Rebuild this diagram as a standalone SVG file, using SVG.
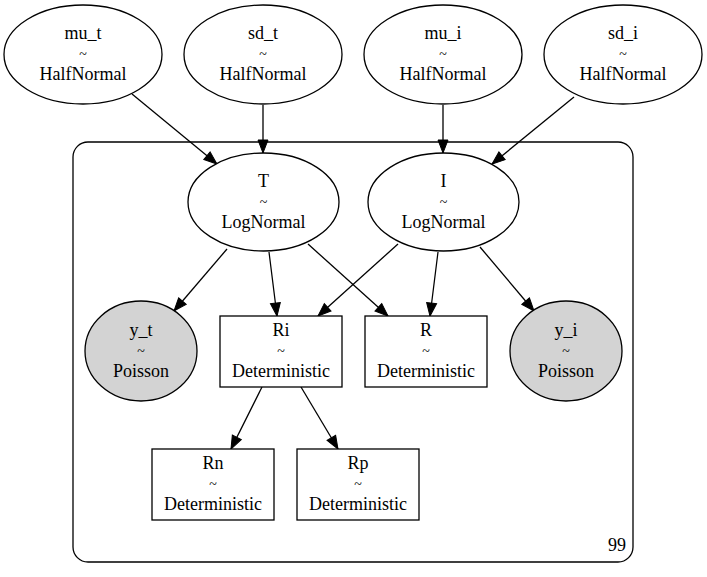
<svg xmlns="http://www.w3.org/2000/svg" width="707" height="577" viewBox="0 0 707 577">
<defs>
<marker id="arr" markerUnits="userSpaceOnUse" markerWidth="14" markerHeight="11" refX="13" refY="5" orient="auto" overflow="visible">
<path d="M0,0 L13,5 L0,10 z" fill="#000" stroke="#000" stroke-width="1"/>
</marker>
</defs>
<style>
.n{fill:#fff;stroke:#000;stroke-width:1.3}
.o{fill:#d3d3d3;stroke:#000;stroke-width:1.3}
.c{fill:none;stroke:#000;stroke-width:1.3}
.e{stroke:#000;stroke-width:1.3;fill:none;marker-end:url(#arr)}
text{font-family:'Liberation Serif','Times New Roman','Tinos','Noto Serif','DejaVu Serif','Nimbus Roman','FreeSerif',Times,serif;font-size:18px;fill:#000;text-anchor:middle}
.t{font-size:14px}
</style>
<rect width="707" height="577" fill="#fff"/>
<g id="cluster99">
<rect class="c" x="73" y="142" width="560" height="420" rx="15" ry="15"/>
<text x="617" y="551">99</text>
</g>
<g id="connectors">
<line class="e" x1="132" y1="94" x2="217" y2="164"/>
<line class="e" x1="263" y1="105" x2="263" y2="153"/>
<line class="e" x1="443" y1="105" x2="443" y2="153"/>
<line class="e" x1="574" y1="97" x2="492" y2="164"/>
<line class="e" x1="227" y1="249" x2="174" y2="311"/>
<line class="e" x1="269" y1="252" x2="277" y2="316"/>
<line class="e" x1="308" y1="244" x2="388" y2="316"/>
<line class="e" x1="398" y1="244" x2="318" y2="316"/>
<line class="e" x1="438" y1="252" x2="430" y2="316"/>
<line class="e" x1="480" y1="247" x2="534" y2="311"/>
<line class="e" x1="262" y1="387" x2="231" y2="449"/>
<line class="e" x1="301" y1="387" x2="338" y2="449"/>
</g>
<g id="mu_t">
<ellipse class="n" cx="83" cy="54.5" rx="79" ry="49.5"/>
<text x="83" y="39">mu_t</text><text class="t" x="83" y="59">~</text><text x="83" y="80">HalfNormal</text>
</g>
<g id="sd_t">
<ellipse class="n" cx="263" cy="54.5" rx="79" ry="49.5"/>
<text x="263" y="39">sd_t</text><text class="t" x="263" y="59">~</text><text x="263" y="80">HalfNormal</text>
</g>
<g id="mu_i">
<ellipse class="n" cx="443" cy="54.5" rx="79" ry="49.5"/>
<text x="443" y="39">mu_i</text><text class="t" x="443" y="59">~</text><text x="443" y="80">HalfNormal</text>
</g>
<g id="sd_i">
<ellipse class="n" cx="623" cy="54.5" rx="79" ry="49.5"/>
<text x="623" y="39">sd_i</text><text class="t" x="623" y="59">~</text><text x="623" y="80">HalfNormal</text>
</g>
<g id="T">
<ellipse class="n" cx="263.5" cy="202" rx="75.5" ry="49"/>
<text x="263.5" y="187">T</text><text class="t" x="263.5" y="207">~</text><text x="263.5" y="228">LogNormal</text>
</g>
<g id="I">
<ellipse class="n" cx="443.5" cy="202" rx="75.5" ry="49"/>
<text x="443.5" y="187">I</text><text class="t" x="443.5" y="207">~</text><text x="443.5" y="228">LogNormal</text>
</g>
<g id="y_t">
<ellipse class="o" cx="141" cy="351" rx="56" ry="50"/>
<text x="141" y="336">y_t</text><text class="t" x="141" y="356">~</text><text x="141" y="377">Poisson</text>
</g>
<g id="y_i">
<ellipse class="o" cx="566" cy="351" rx="56" ry="50"/>
<text x="566" y="336">y_i</text><text class="t" x="566" y="356">~</text><text x="566" y="377">Poisson</text>
</g>
<g id="Ri">
<rect class="n" x="220" y="316" width="122" height="71"/>
<text x="281" y="336">Ri</text><text class="t" x="281" y="356">~</text><text x="281" y="377">Deterministic</text>
</g>
<g id="R">
<rect class="n" x="365" y="316" width="122" height="71"/>
<text x="426" y="336">R</text><text class="t" x="426" y="356">~</text><text x="426" y="377">Deterministic</text>
</g>
<g id="Rn">
<rect class="n" x="152" y="449" width="122" height="71"/>
<text x="213" y="469">Rn</text><text class="t" x="213" y="489">~</text><text x="213" y="510">Deterministic</text>
</g>
<g id="Rp">
<rect class="n" x="297" y="449" width="122" height="71"/>
<text x="358" y="469">Rp</text><text class="t" x="358" y="489">~</text><text x="358" y="510">Deterministic</text>
</g>
</svg>
